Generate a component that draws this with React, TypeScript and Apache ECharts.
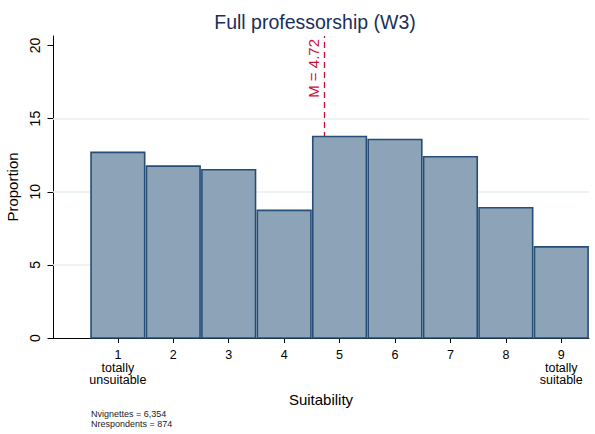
import React, { useEffect, useRef } from 'react';
import * as echarts from 'echarts';

const categories = [1, 2, 3, 4, 5, 6, 7, 8, 9];
const proportions = [12.69, 11.75, 11.5, 8.73, 13.78, 13.57, 12.39, 8.91, 6.23];
const yTicks = [0, 5, 10, 15, 20];
const gridValues = [5, 10, 15];
const meanValue = 4.72;
const meanLabel = 'M = 4.72';
const xTickLabels: Record<number, string> = {
  1: '1\ntotally\nunsuitable',
  9: '9\ntotally\nsuitable',
};
const footnotes = ['Nvignettes = 6,354', 'Nrespondents = 874'];
const titleText = 'Full professorship (W3)';
const xName = 'Suitability';
const yName = 'Proportion';

const FONT = '"Liberation Sans", Arial, sans-serif';

export default function App() {
  const ref = useRef<HTMLDivElement>(null);
  useEffect(() => {
    document.body.style.margin = '0';
    const chart = echarts.init(ref.current!, null, { renderer: 'svg' });
    const barData = categories.map((c, i) => [c, proportions[i]]);
    chart.setOption({
      animation: false,
      textStyle: { fontFamily: FONT },
      title: {
        text: titleText,
        left: 310,
        textAlign: 'center',
        top: 7,
        textStyle: { fontFamily: FONT, fontSize: 19.5, fontWeight: 'normal', color: '#1a2f5a' },
      },
      grid: {
        left: 53,
        right: 6,
        top: 36,
        bottom: 96,
        containLabel: false,
        outerBoundsMode: 'none',
      },
      xAxis: {
        type: 'value',
        min: -0.17,
        max: 9.5,
        name: xName,
        nameLocation: 'middle',
        nameGap: 47,
        nameTextStyle: { fontFamily: FONT, fontSize: 15, color: '#000' },
        axisLine: { show: true, onZero: false, lineStyle: { color: '#000', width: 1 } },
        axisTick: { show: true, length: 5, customValues: categories, lineStyle: { color: '#000' } },
        axisLabel: {
          customValues: categories,
          formatter: (v: number) => xTickLabels[v] ?? String(v),
          fontFamily: FONT,
          fontSize: 12.5,
          lineHeight: 12.5,
          color: '#000',
          margin: 11,
        },
        splitLine: { show: false },
      },
      yAxis: {
        type: 'value',
        min: 0,
        max: 20.65,
        name: yName,
        nameLocation: 'middle',
        nameGap: 30,
        nameTextStyle: { fontFamily: FONT, fontSize: 15, color: '#000' },
        axisLine: { show: true, onZero: false, lineStyle: { color: '#000', width: 1 } },
        axisTick: { show: true, length: 5.5, customValues: yTicks, lineStyle: { color: '#000' } },
        axisLabel: {
          customValues: yTicks,
          rotate: 90,
          fontFamily: FONT,
          fontSize: 14,
          color: '#000',
          margin: 11,
        },
        splitLine: { show: false },
      },
      series: [
        {
          type: 'line',
          z: 1,
          data: barData,
          symbol: 'none',
          lineStyle: { opacity: 0 },
          silent: true,
          markLine: {
            silent: true,
            symbol: ['none', 'none'],
            z: 1,
            data: [
              ...gridValues.map((v) => ({
                yAxis: v,
                lineStyle: { color: '#e8f0f1', width: 1.5, type: 'solid' },
                label: { show: false },
              })),
              [
                {
                  coord: [meanValue, 0],
                  lineStyle: { color: '#c8103c', width: 1.3, type: [6, 4] },
                  label: {
                    show: true,
                    formatter: meanLabel,
                    position: 'insideEndTop',
                    distance: 3,
                    color: '#c8103c',
                    fontFamily: FONT,
                    fontSize: 15,
                  },
                },
                { coord: [meanValue, 20.65] },
              ],
            ],
          },
        },
        {
          type: 'custom',
          z: 3,
          data: barData,
          encode: { x: 0, y: 1 },
          renderItem: (params: any, api: any) => {
            const x = api.value(0);
            const y = api.value(1);
            const p0 = api.coord([x - 0.5, y]);
            const p1 = api.coord([x + 0.5, 0]);
            return {
              type: 'rect',
              shape: {
                x: p0[0] + 0.9,
                y: p0[1],
                width: p1[0] - p0[0] - 1.8,
                height: p1[1] - p0[1],
              },
              style: { fill: '#8da3b8', stroke: '#264d76', lineWidth: 1.6 },
            };
          },
        },
      ],
      graphic: footnotes.map((t, i) => ({
        type: 'text',
        left: 91,
        top: 409 + i * 10.5,
        style: { text: t, fontFamily: FONT, fontSize: 9, fill: '#222' },
      })),
    });
    return () => chart.dispose();
  }, []);
  return <div ref={ref} style={{ width: 595, height: 434 }} />;
}
